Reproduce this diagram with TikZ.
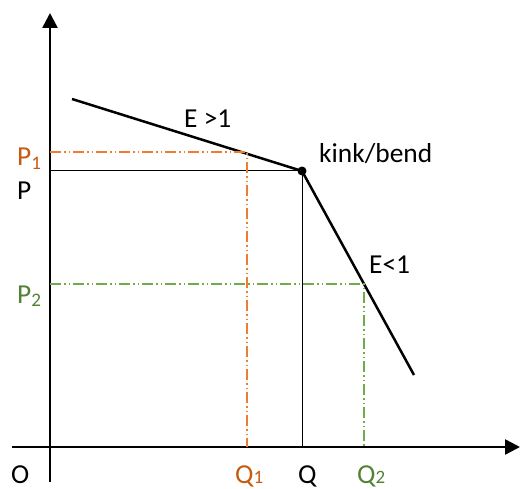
\documentclass[tikz,border=0pt]{standalone}
\usepackage{fontspec}
\setmainfont{Carlito}
\usetikzlibrary{arrows.meta, positioning}
\definecolor{myOrange}{RGB}{237,125,49}
\definecolor{myOrangeText}{RGB}{197,90,17}
\definecolor{myGreen}{RGB}{112,173,71}
\definecolor{myGreenText}{RGB}{84,130,53}
\newcommand{\qsub}[1]{{\fontsize{19}{20}\selectfont #1}}

\begin{document}
\begin{tikzpicture}[x=1bp, y=-1bp, every node/.style={font=\fontsize{27.5}{32}\selectfont, inner sep=0pt, anchor=base west},
	axis/.style={line width=2.5bp, -{Triangle[length=15bp, width=15bp]}},
	demand/.style={line width=2.5bp},
	guide/.style={line width=1bp},
	dashdot/.style={line width=1.2bp, dash pattern=on 11bp off 3bp on 1.5bp off 3bp on 1.5bp off 3bp}]
		\useasboundingbox (0,0) rectangle (520,489);
		% Axes
		\coordinate (ybot) at (50,482);
		\coordinate (ytop) at (50,13);
		\coordinate (xleft) at (12,447);
		\coordinate (xright) at (520,447);
		\draw[axis] (ybot) -- (ytop);
		\draw[axis] (xleft) -- (xright);
		% Kinked demand curve
		\coordinate (dtop) at (72,99);
		\coordinate (kink) at (302,171);
		\coordinate (dbot) at (414,375);
		\draw[demand] (dtop) -- (kink) -- (dbot);
		\fill (kink) circle (4.5bp);
		% Points on the curve
		\coordinate (pt1) at (247,152);
		\coordinate (pt2) at (364,284);
		% Price and quantity at the kink
		\draw[guide] (kink -| ybot) -- (kink) -- (kink |- xleft);
		% P1, Q1
		\draw[dashdot, myOrange] (pt1 -| ybot) -- (pt1) -- (pt1 |- xleft);
		% P2, Q2
		\draw[dashdot, myGreen] (pt2 -| ybot) -- (pt2) -- (pt2 |- xleft);
		% Labels
		\node (lblE1) at (184,128) {E >1};
		\node (lblKink) at (319,163) {kink/bend};
		\node (lblE2) at (369,273) {E<1};
		\node[myOrangeText] (lblP1) at (17,166) {P\textsubscript{1}};
		\node (lblP) at (17,200) {P};
		\node[myGreenText] (lblP2) at (17,303) {P\textsubscript{2}};
		\node (lblO) at (11,483) {O};
		\node[myOrangeText] (lblQ1) at (235,483) {Q\qsub{1}};
		\node (lblQ) at (298,483) {Q};
		\node[myGreenText] (lblQ2) at (357,483) {Q\qsub{2}};
	\end{tikzpicture}
\end{document}
